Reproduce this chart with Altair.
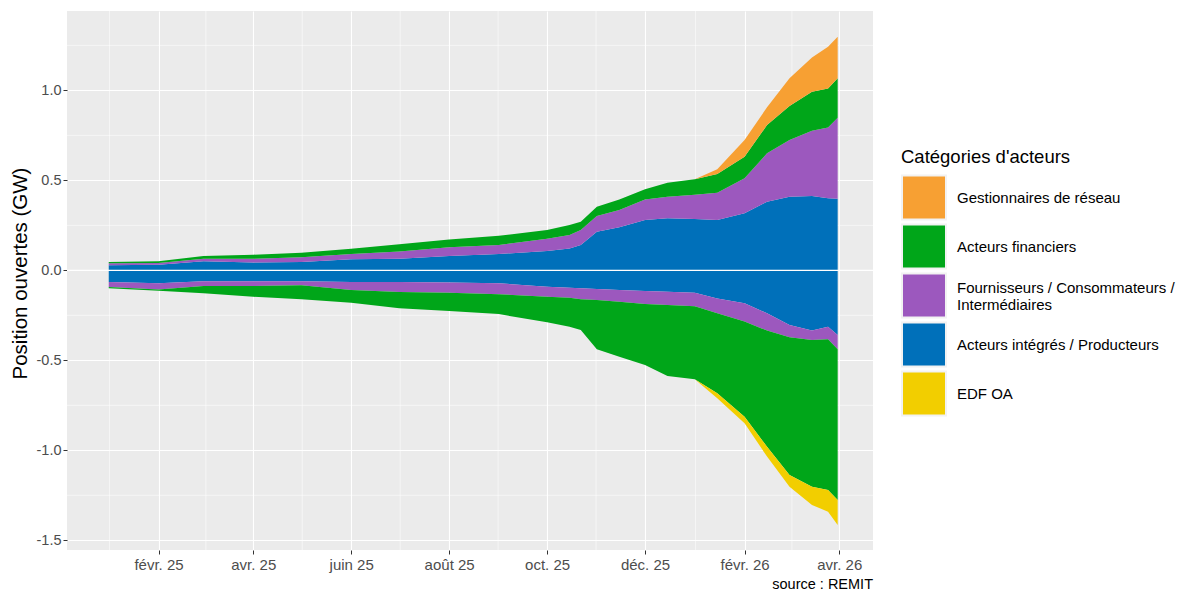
import altair as alt
import pandas as pd

# ---------------- data (GW) ----------------
dates = ["2025-01-01", "2025-02-01", "2025-03-01", "2025-04-01", "2025-05-01",
         "2025-06-01", "2025-07-01", "2025-08-01", "2025-09-01", "2025-10-01",
         "2025-10-15", "2025-10-22", "2025-11-01", "2025-11-15", "2025-12-01",
         "2025-12-15", "2026-01-01", "2026-01-15", "2026-02-01", "2026-02-15",
         "2026-03-01", "2026-03-15", "2026-03-25", "2026-03-31"]

categories = ["Gestionnaires de réseau", "Acteurs financiers",
              "Fournisseurs / Consommateurs /\n\u2005Intermédiaires",
              "Acteurs intégrés / Producteurs", "EDF OA"]
colors = ["#F7A033", "#00A619", "#9C58BE", "#0070BA", "#F2CE00"]

# long (positive) positions
long_integres = [0.028, 0.031, 0.050, 0.044, 0.046, 0.061, 0.065, 0.079, 0.091, 0.107,
                 0.122, 0.141, 0.215, 0.239, 0.279, 0.289, 0.285, 0.279, 0.317, 0.381,
                 0.409, 0.413, 0.400, 0.398]
long_fournisseurs = [0.011, 0.010, 0.014, 0.020, 0.026, 0.030, 0.040, 0.049, 0.050, 0.069,
                     0.074, 0.083, 0.087, 0.096, 0.115, 0.120, 0.135, 0.152, 0.194, 0.269,
                     0.315, 0.363, 0.394, 0.450]
long_financiers = [0.007, 0.009, 0.015, 0.023, 0.026, 0.029, 0.040, 0.044, 0.051, 0.048,
                   0.056, 0.046, 0.051, 0.059, 0.056, 0.078, 0.086, 0.104, 0.120, 0.157,
                   0.189, 0.216, 0.217, 0.219]
long_gestionnaires = [0, 0, 0, 0, 0, 0, 0, 0, 0, 0, 0, 0, 0, 0, 0, 0, 0,
                      0.026, 0.093, 0.099, 0.154, 0.191, 0.231, 0.231]

# short (negative) positions
short_integres = [-0.065, -0.072, -0.061, -0.061, -0.061, -0.065, -0.065, -0.067, -0.072, -0.091,
                  -0.097, -0.100, -0.104, -0.109, -0.115, -0.119, -0.124, -0.156, -0.183, -0.239,
                  -0.304, -0.335, -0.313, -0.359]
short_fournisseurs = [-0.027, -0.034, -0.026, -0.026, -0.022, -0.044, -0.055, -0.057, -0.061, -0.056,
                      -0.055, -0.060, -0.061, -0.065, -0.072, -0.074, -0.076, -0.083, -0.102, -0.096,
                      -0.068, -0.052, -0.070, -0.080]
short_financiers = [-0.008, -0.007, -0.041, -0.060, -0.078, -0.071, -0.091, -0.102, -0.110, -0.142,
                    -0.161, -0.172, -0.274, -0.306, -0.339, -0.394, -0.405, -0.444, -0.528, -0.645,
                    -0.765, -0.815, -0.837, -0.837]
short_edfoa = [0, 0, 0, 0, 0, 0, 0, 0, 0, 0, 0, 0, 0, 0, 0, 0, 0,
               -0.028, -0.037, -0.055, -0.065, -0.102, -0.121, -0.139]

x_tick_dates = ["2025-02", "2025-04", "2025-06", "2025-08", "2025-10", "2025-12", "2026-02", "2026-04"]
x_tick_labels = ["févr. 25", "avr. 25", "juin 25", "août 25", "oct. 25", "déc. 25", "févr. 26", "avr. 26"]
x_minor = ["2025-01-01T12:00:00Z", "2025-03-02T12:00:00Z", "2025-05-01T12:00:00Z",
           "2025-07-01T12:00:00Z", "2025-08-31T12:00:00Z", "2025-10-31T12:00:00Z",
           "2026-01-01T12:00:00Z", "2026-03-02T12:00:00Z"]
y_ticks = [-1.5, -1.0, -0.5, 0.0, 0.5, 1.0]
y_minor = [-1.25, -0.75, -0.25, 0.25, 0.75, 1.25]

# ---------------- tables ----------------
long_series = [(categories[3], 0, long_integres), (categories[2], 1, long_fournisseurs),
               (categories[1], 2, long_financiers), (categories[0], 3, long_gestionnaires)]
short_series = [(categories[3], 0, short_integres), (categories[2], 1, short_fournisseurs),
                (categories[1], 2, short_financiers), (categories[4], 3, short_edfoa)]


def to_df(series):
    rows = []
    for cat, rank, vals in series:
        for d, v in zip(dates, vals):
            rows.append({"date": d, "cat": cat, "rank": rank, "value": v})
    return pd.DataFrame(rows)


df_long = to_df(long_series)
df_short = to_df(short_series)

FONT = "Liberation Sans"

xscale = alt.Scale(type="utc",
                   domain=[alt.DateTime(year=2024, month=12, date=6, utc=True),
                           alt.DateTime(year=2026, month=4, date=22, utc=True)])
yscale = alt.Scale(domain=[-1.554, 1.441], nice=False, zero=False)

tick_vals = [alt.DateTime(year=int(s[:4]), month=int(s[5:]), date=1, utc=True) for s in x_tick_dates]
keys_js = "[" + ",".join("'%s'" % k for k in x_tick_dates) + "]"
labs_js = "[" + ",".join("'%s'" % l for l in x_tick_labels) + "]"

xaxis = alt.Axis(values=tick_vals, title=None,
                 labelExpr=labs_js + "[indexof(" + keys_js + ", utcFormat(datum.value, '%Y-%m'))]",
                 domain=False, tickSize=4, tickColor="#333333", tickWidth=1,
                 labelColor="#4D4D4D", labelFontSize=15, labelPadding=3, labelFont=FONT,
                 grid=True, gridColor="white", gridWidth=1.1)
yaxis = alt.Axis(values=y_ticks, title="Position ouvertes (GW)",
                 labelExpr="datum.value < 0 ? '-' + format(-datum.value, '.1f') : format(datum.value, '.1f')",
                 domain=False, tickSize=4, tickColor="#333333", tickWidth=1,
                 labelColor="#4D4D4D", labelFontSize=14.5, labelPadding=2, labelFont=FONT,
                 grid=True, gridColor="white", gridWidth=1.1,
                 titleFontSize=20.5, titleFontWeight="normal", titleColor="black",
                 titleFont=FONT, titleX=-41, titleY=262, titleAngle=270,
                 titleAlign="center", titleBaseline="alphabetic")

legend = alt.Legend(title="Catégories d'acteurs", orient="none", legendX=834, legendY=137,
                    direction="vertical", symbolType="square", symbolSize=1936,
                    symbolStrokeColor="#F2F2F2", symbolStrokeWidth=2, symbolOpacity=1,
                    labelFontSize=15, labelColor="black", labelFont=FONT, labelOffset=10,
                    labelLimit=400, labelExpr="split(datum.label, '\\n')",
                    labelBaseline={"expr": "indexof(datum.label, '\\n') >= 0 ? 'bottom' : 'middle'"},
                    titleFontSize=18.5, titleColor="black", titleFontWeight="normal",
                    titleFont=FONT, titlePadding=8, rowPadding=-8, padding=0)

X = alt.X("date:T", scale=xscale, axis=xaxis)
Y = alt.Y("top:Q", scale=yscale, axis=yaxis)
C = alt.Color("cat:N", scale=alt.Scale(domain=categories, range=colors), legend=legend)

pos = (alt.Chart(df_long)
       .transform_stack(stack="value", groupby=["date"], as_=["s0", "s1"],
                        sort=[alt.SortField("rank", order="ascending")])
       .transform_calculate(top="datum.s1", bot="datum.s0")
       .mark_area(interpolate="linear", opacity=1)
       .encode(x=X, y=Y, y2="bot:Q", color=C))

neg = (alt.Chart(df_short)
       .transform_calculate(mag="-datum.value")
       .transform_stack(stack="mag", groupby=["date"], as_=["s0", "s1"],
                        sort=[alt.SortField("rank", order="ascending")])
       .transform_calculate(top="-datum.s1", bot="-datum.s0")
       .mark_area(interpolate="linear", opacity=1)
       .encode(x=X, y=Y, y2="bot:Q", color=C))

minor_x = (alt.Chart(pd.DataFrame({"date": x_minor}))
           .mark_rule(color="white", strokeWidth=0.55)
           .encode(x=X))
minor_y = (alt.Chart(pd.DataFrame({"top": y_minor}))
           .mark_rule(color="white", strokeWidth=0.55)
           .encode(y=Y))
zero_line = (alt.Chart(pd.DataFrame({"top": [0.0]}))
             .mark_rule(color="white", strokeWidth=1.1)
             .encode(y=Y))
caption = (alt.Chart(pd.DataFrame({"t": ["source : REMIT"]}))
           .mark_text(align="right", baseline="alphabetic", fontSize=14.5, color="black", font=FONT)
           .encode(text="t:N", x=alt.value(806), y=alt.value(578)))

chart = (alt.layer(minor_x, minor_y, pos, neg, zero_line, caption)
         .properties(width=806, height=539,
                     autosize=alt.AutoSizeParams(type="none"),
                     padding={"left": 59, "top": 3, "right": 310, "bottom": 44})
         .configure(font=FONT, background="white")
         .configure_view(fill="#EBEBEB", strokeWidth=0))

chart.save("out.html", embed_options={"renderer": "svg", "actions": False})
